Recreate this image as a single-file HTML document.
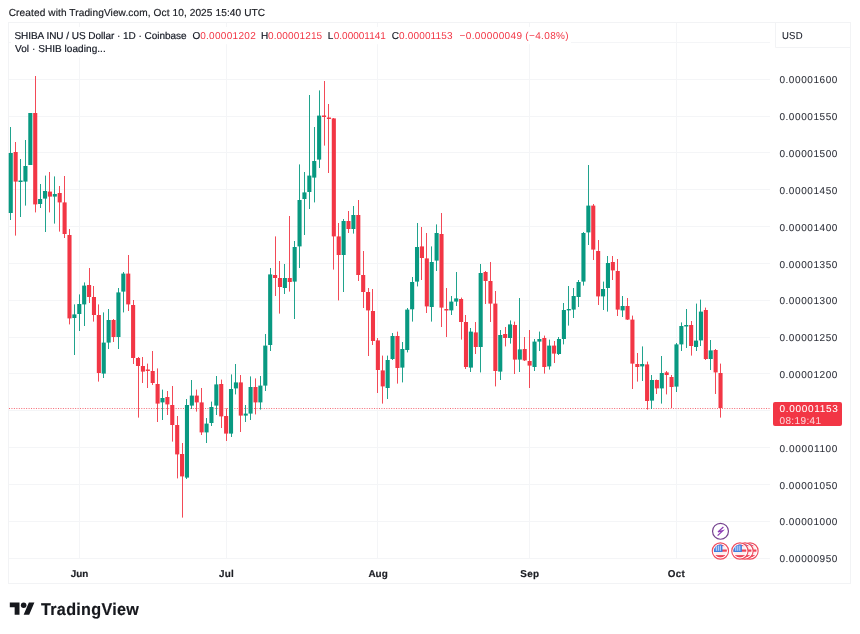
<!DOCTYPE html>
<html lang="en"><head><meta charset="utf-8"><title>SHIBUSD chart</title>
<style>
html,body{margin:0;padding:0;background:#fff}
body{width:860px;height:634px;position:relative;overflow:hidden;font-family:"Liberation Sans",sans-serif;color:#131722}
.cv{position:absolute;left:0;top:0}
.t{position:absolute;white-space:pre;line-height:14px;transform-origin:0 50%;-webkit-text-stroke:0.18px;text-rendering:geometricPrecision}
.cur{position:absolute;left:772.8px;top:401.9px;width:69px;height:24.5px;background:#f23645;border-radius:2px}
.ic{position:absolute}
.logo{position:absolute;left:9.9px;top:602.4px}
</style></head><body>
<svg class="cv" width="860" height="634" viewBox="0 0 860 634">
<g fill="none" stroke="#f2f3f5" stroke-width="1">
<rect x="8.5" y="22.5" width="842" height="561"/>
<path d="M775.5 22.5V47.5H850.5"/>
</g>
<g stroke="#f4f5f7" stroke-width="1">
<line x1="9" x2="770" y1="42.5" y2="42.5"/>
<line x1="9" x2="770" y1="79.5" y2="79.5"/>
<line x1="9" x2="770" y1="116.5" y2="116.5"/>
<line x1="9" x2="770" y1="152.5" y2="152.5"/>
<line x1="9" x2="770" y1="189.5" y2="189.5"/>
<line x1="9" x2="770" y1="226.5" y2="226.5"/>
<line x1="9" x2="770" y1="263.5" y2="263.5"/>
<line x1="9" x2="770" y1="300.5" y2="300.5"/>
<line x1="9" x2="770" y1="337.5" y2="337.5"/>
<line x1="9" x2="770" y1="373.5" y2="373.5"/>
<line x1="9" x2="770" y1="410.5" y2="410.5"/>
<line x1="9" x2="770" y1="447.5" y2="447.5"/>
<line x1="9" x2="770" y1="484.5" y2="484.5"/>
<line x1="9" x2="770" y1="521.5" y2="521.5"/>
<line x1="9" x2="770" y1="558.5" y2="558.5"/>
<line x1="79.5" x2="79.5" y1="23" y2="558"/>
<line x1="226.5" x2="226.5" y1="23" y2="558"/>
<line x1="377.5" x2="377.5" y1="23" y2="558"/>
<line x1="529.5" x2="529.5" y1="23" y2="558"/>
<line x1="676.5" x2="676.5" y1="23" y2="558"/>
</g>
<rect x="11" y="27" width="560" height="17.2" fill="#fff"/><rect x="11" y="44" width="97" height="13.5" fill="#fff"/>
<line x1="9" x2="771" y1="408.5" y2="408.5" stroke="#f23645" stroke-width="1" stroke-dasharray="1 1.45" opacity="0.75"/>
<g fill="#089981" stroke="none">
<rect x="10" y="127.0" width="1" height="93.0" opacity="0.9"/>
<rect x="8.70" y="153.0" width="4.1" height="60.0"/>
<rect x="20" y="159.0" width="1" height="58.0" opacity="0.9"/>
<rect x="18.49" y="180.5" width="4.1" height="1.5"/>
<rect x="25" y="140.0" width="1" height="65.6" opacity="0.9"/>
<rect x="23.38" y="166.0" width="4.1" height="15.6"/>
<rect x="30" y="113.0" width="1" height="52.0" opacity="0.9"/>
<rect x="28.28" y="113.0" width="4.1" height="52.0"/>
<rect x="40" y="184.0" width="1" height="24.0" opacity="0.9"/>
<rect x="38.07" y="199.0" width="4.1" height="5.0"/>
<rect x="45" y="175.6" width="1" height="56.4" opacity="0.9"/>
<rect x="42.97" y="191.0" width="4.1" height="7.6"/>
<rect x="54" y="176.4" width="1" height="47.2" opacity="0.9"/>
<rect x="52.75" y="194.0" width="4.1" height="2.6"/>
<rect x="74" y="304.4" width="1" height="50.6" opacity="0.9"/>
<rect x="72.33" y="314.4" width="4.1" height="3.6"/>
<rect x="79" y="294.4" width="1" height="36.6" opacity="0.9"/>
<rect x="77.23" y="304.0" width="4.1" height="10.0"/>
<rect x="84" y="282.4" width="1" height="43.6" opacity="0.9"/>
<rect x="82.12" y="285.6" width="4.1" height="18.8"/>
<rect x="103" y="312.4" width="1" height="65.6" opacity="0.9"/>
<rect x="101.70" y="342.6" width="4.1" height="31.0"/>
<rect x="108" y="309.0" width="1" height="40.0" opacity="0.9"/>
<rect x="106.60" y="320.0" width="4.1" height="22.6"/>
<rect x="118" y="288.0" width="1" height="61.0" opacity="0.9"/>
<rect x="116.39" y="292.4" width="4.1" height="44.6"/>
<rect x="123" y="272.0" width="1" height="40.4" opacity="0.9"/>
<rect x="121.28" y="273.6" width="4.1" height="18.0"/>
<rect x="162" y="389.6" width="1" height="30.4" opacity="0.9"/>
<rect x="160.44" y="398.0" width="4.1" height="4.4"/>
<rect x="186" y="399.0" width="1" height="80.0" opacity="0.9"/>
<rect x="184.92" y="405.0" width="4.1" height="72.6"/>
<rect x="191" y="380.0" width="1" height="29.0" opacity="0.9"/>
<rect x="189.81" y="395.6" width="4.1" height="10.0"/>
<rect x="206" y="418.0" width="1" height="25.0" opacity="0.9"/>
<rect x="204.50" y="423.6" width="4.1" height="8.8"/>
<rect x="211" y="401.6" width="1" height="24.4" opacity="0.9"/>
<rect x="209.39" y="407.0" width="4.1" height="16.0"/>
<rect x="216" y="376.0" width="1" height="39.0" opacity="0.9"/>
<rect x="214.29" y="384.4" width="4.1" height="21.2"/>
<rect x="231" y="374.4" width="1" height="62.6" opacity="0.9"/>
<rect x="228.97" y="389.0" width="4.1" height="44.6"/>
<rect x="235" y="364.0" width="1" height="30.4" opacity="0.9"/>
<rect x="233.87" y="382.4" width="4.1" height="6.0"/>
<rect x="245" y="405.0" width="1" height="17.0" opacity="0.9"/>
<rect x="243.66" y="413.6" width="4.1" height="2.0"/>
<rect x="250" y="376.4" width="1" height="43.6" opacity="0.9"/>
<rect x="248.55" y="387.0" width="4.1" height="26.6"/>
<rect x="260" y="376.0" width="1" height="33.6" opacity="0.9"/>
<rect x="258.34" y="385.6" width="4.1" height="16.8"/>
<rect x="265" y="334.0" width="1" height="57.0" opacity="0.9"/>
<rect x="263.24" y="345.6" width="4.1" height="40.0"/>
<rect x="270" y="268.0" width="1" height="83.0" opacity="0.9"/>
<rect x="268.13" y="274.4" width="4.1" height="70.6"/>
<rect x="284" y="264.0" width="1" height="30.0" opacity="0.9"/>
<rect x="282.82" y="278.0" width="4.1" height="10.0"/>
<rect x="294" y="241.0" width="1" height="78.0" opacity="0.9"/>
<rect x="292.61" y="247.0" width="4.1" height="34.6"/>
<rect x="299" y="164.4" width="1" height="103.6" opacity="0.9"/>
<rect x="297.50" y="200.0" width="4.1" height="46.4"/>
<rect x="304" y="172.0" width="1" height="63.0" opacity="0.9"/>
<rect x="302.40" y="192.4" width="4.1" height="6.6"/>
<rect x="309" y="95.0" width="1" height="114.0" opacity="0.9"/>
<rect x="307.29" y="175.6" width="4.1" height="16.4"/>
<rect x="314" y="127.0" width="1" height="75.4" opacity="0.9"/>
<rect x="312.19" y="161.0" width="4.1" height="16.6"/>
<rect x="319" y="90.4" width="1" height="77.6" opacity="0.9"/>
<rect x="317.08" y="115.6" width="4.1" height="44.0"/>
<rect x="343" y="219.0" width="1" height="73.0" opacity="0.9"/>
<rect x="341.56" y="221.0" width="4.1" height="34.0"/>
<rect x="353" y="206.0" width="1" height="27.6" opacity="0.9"/>
<rect x="351.35" y="215.0" width="4.1" height="14.0"/>
<rect x="387" y="355.6" width="1" height="43.4" opacity="0.9"/>
<rect x="385.61" y="360.0" width="4.1" height="28.0"/>
<rect x="392" y="333.0" width="1" height="27.0" opacity="0.9"/>
<rect x="390.51" y="336.0" width="4.1" height="23.0"/>
<rect x="402" y="342.0" width="1" height="40.4" opacity="0.9"/>
<rect x="400.30" y="349.0" width="4.1" height="18.6"/>
<rect x="407" y="308.0" width="1" height="44.4" opacity="0.9"/>
<rect x="405.19" y="309.6" width="4.1" height="40.4"/>
<rect x="412" y="277.0" width="1" height="44.6" opacity="0.9"/>
<rect x="410.09" y="282.0" width="4.1" height="27.3"/>
<rect x="417" y="223.0" width="1" height="63.4" opacity="0.9"/>
<rect x="414.98" y="247.0" width="4.1" height="34.6"/>
<rect x="431" y="246.4" width="1" height="75.2" opacity="0.9"/>
<rect x="429.67" y="262.0" width="4.1" height="45.0"/>
<rect x="436" y="224.4" width="1" height="46.6" opacity="0.9"/>
<rect x="434.56" y="233.0" width="4.1" height="27.6"/>
<rect x="451" y="296.0" width="1" height="19.0" opacity="0.9"/>
<rect x="449.25" y="301.6" width="4.1" height="8.8"/>
<rect x="456" y="272.0" width="1" height="34.0" opacity="0.9"/>
<rect x="454.14" y="298.4" width="4.1" height="3.2"/>
<rect x="470" y="328.0" width="1" height="44.0" opacity="0.9"/>
<rect x="468.83" y="331.6" width="4.1" height="36.0"/>
<rect x="480" y="264.0" width="1" height="108.4" opacity="0.9"/>
<rect x="478.62" y="273.0" width="4.1" height="74.0"/>
<rect x="500" y="330.0" width="1" height="50.0" opacity="0.9"/>
<rect x="498.20" y="335.0" width="4.1" height="36.6"/>
<rect x="510" y="320.4" width="1" height="23.2" opacity="0.9"/>
<rect x="507.99" y="324.4" width="4.1" height="13.6"/>
<rect x="519" y="298.0" width="1" height="74.0" opacity="0.9"/>
<rect x="517.78" y="349.4" width="4.1" height="10.2"/>
<rect x="534" y="339.0" width="1" height="32.0" opacity="0.9"/>
<rect x="532.47" y="341.6" width="4.1" height="25.4"/>
<rect x="539" y="331.6" width="1" height="19.4" opacity="0.9"/>
<rect x="537.36" y="339.0" width="4.1" height="2.6"/>
<rect x="549" y="339.6" width="1" height="30.0" opacity="0.9"/>
<rect x="547.15" y="345.6" width="4.1" height="20.8"/>
<rect x="558" y="337.0" width="1" height="18.0" opacity="0.9"/>
<rect x="556.94" y="339.0" width="4.1" height="15.0"/>
<rect x="563" y="303.0" width="1" height="41.4" opacity="0.9"/>
<rect x="561.84" y="310.0" width="4.1" height="29.0"/>
<rect x="568" y="286.0" width="1" height="39.6" opacity="0.9"/>
<rect x="566.73" y="309.0" width="4.1" height="1.4"/>
<rect x="573" y="288.0" width="1" height="30.0" opacity="0.9"/>
<rect x="571.62" y="296.0" width="4.1" height="13.6"/>
<rect x="578" y="280.0" width="1" height="27.0" opacity="0.9"/>
<rect x="576.52" y="282.0" width="4.1" height="15.0"/>
<rect x="583" y="232.0" width="1" height="53.6" opacity="0.9"/>
<rect x="581.41" y="233.0" width="4.1" height="48.6"/>
<rect x="588" y="165.0" width="1" height="80.0" opacity="0.9"/>
<rect x="586.31" y="205.6" width="4.1" height="26.8"/>
<rect x="603" y="281.6" width="1" height="28.4" opacity="0.9"/>
<rect x="601.00" y="289.0" width="4.1" height="7.4"/>
<rect x="607" y="256.0" width="1" height="55.6" opacity="0.9"/>
<rect x="605.89" y="263.0" width="4.1" height="25.0"/>
<rect x="622" y="296.0" width="1" height="21.0" opacity="0.9"/>
<rect x="620.58" y="306.0" width="4.1" height="4.4"/>
<rect x="642" y="346.4" width="1" height="34.6" opacity="0.9"/>
<rect x="640.15" y="364.0" width="4.1" height="2.4"/>
<rect x="651" y="375.0" width="1" height="34.0" opacity="0.9"/>
<rect x="649.94" y="380.0" width="4.1" height="20.6"/>
<rect x="661" y="356.0" width="1" height="47.6" opacity="0.9"/>
<rect x="659.74" y="373.0" width="4.1" height="15.4"/>
<rect x="676" y="343.0" width="1" height="49.0" opacity="0.9"/>
<rect x="674.42" y="344.4" width="4.1" height="42.2"/>
<rect x="681" y="322.4" width="1" height="28.6" opacity="0.9"/>
<rect x="679.31" y="326.0" width="4.1" height="18.4"/>
<rect x="686" y="309.0" width="1" height="39.0" opacity="0.9"/>
<rect x="684.21" y="325.0" width="4.1" height="1.5"/>
<rect x="696" y="303.6" width="1" height="47.4" opacity="0.9"/>
<rect x="694.00" y="340.6" width="4.1" height="6.4"/>
<rect x="700" y="299.6" width="1" height="46.4" opacity="0.9"/>
<rect x="698.89" y="311.6" width="4.1" height="28.8"/>
<rect x="710" y="340.0" width="1" height="30.0" opacity="0.9"/>
<rect x="708.68" y="350.4" width="4.1" height="8.6"/>
</g>
<g fill="#f23645" stroke="none">
<rect x="15" y="142.0" width="1" height="93.6" opacity="0.9"/>
<rect x="13.59" y="152.0" width="4.1" height="29.6"/>
<rect x="35" y="76.0" width="1" height="136.4" opacity="0.9"/>
<rect x="33.17" y="113.0" width="4.1" height="91.4"/>
<rect x="49" y="172.0" width="1" height="40.4" opacity="0.9"/>
<rect x="47.86" y="191.6" width="4.1" height="5.0"/>
<rect x="59" y="186.0" width="1" height="45.6" opacity="0.9"/>
<rect x="57.65" y="193.0" width="4.1" height="9.4"/>
<rect x="64" y="176.0" width="1" height="62.0" opacity="0.9"/>
<rect x="62.55" y="202.4" width="4.1" height="31.6"/>
<rect x="69" y="229.0" width="1" height="95.4" opacity="0.9"/>
<rect x="67.44" y="235.0" width="4.1" height="83.4"/>
<rect x="89" y="268.0" width="1" height="35.0" opacity="0.9"/>
<rect x="87.02" y="285.0" width="4.1" height="12.0"/>
<rect x="93" y="286.0" width="1" height="35.6" opacity="0.9"/>
<rect x="91.91" y="297.0" width="4.1" height="18.0"/>
<rect x="98" y="304.4" width="1" height="77.2" opacity="0.9"/>
<rect x="96.81" y="315.0" width="4.1" height="58.0"/>
<rect x="113" y="319.0" width="1" height="23.0" opacity="0.9"/>
<rect x="111.49" y="320.0" width="4.1" height="17.0"/>
<rect x="128" y="255.0" width="1" height="56.0" opacity="0.9"/>
<rect x="126.18" y="273.6" width="4.1" height="30.8"/>
<rect x="133" y="300.0" width="1" height="64.0" opacity="0.9"/>
<rect x="131.07" y="305.0" width="4.1" height="53.0"/>
<rect x="138" y="357.0" width="1" height="60.6" opacity="0.9"/>
<rect x="135.97" y="358.0" width="4.1" height="8.0"/>
<rect x="142" y="357.0" width="1" height="26.0" opacity="0.9"/>
<rect x="140.86" y="366.0" width="4.1" height="5.6"/>
<rect x="147" y="363.6" width="1" height="24.4" opacity="0.9"/>
<rect x="145.76" y="369.5" width="4.1" height="1.5"/>
<rect x="152" y="351.0" width="1" height="34.0" opacity="0.9"/>
<rect x="150.65" y="371.0" width="4.1" height="12.0"/>
<rect x="157" y="368.4" width="1" height="53.6" opacity="0.9"/>
<rect x="155.55" y="384.0" width="4.1" height="19.6"/>
<rect x="167" y="391.0" width="1" height="24.0" opacity="0.9"/>
<rect x="165.34" y="397.0" width="4.1" height="7.4"/>
<rect x="172" y="386.0" width="1" height="55.6" opacity="0.9"/>
<rect x="170.23" y="405.0" width="4.1" height="20.0"/>
<rect x="177" y="416.0" width="1" height="62.4" opacity="0.9"/>
<rect x="175.13" y="425.0" width="4.1" height="29.4"/>
<rect x="182" y="443.0" width="1" height="74.6" opacity="0.9"/>
<rect x="180.02" y="454.0" width="4.1" height="22.4"/>
<rect x="196" y="389.6" width="1" height="22.0" opacity="0.9"/>
<rect x="194.71" y="395.6" width="4.1" height="6.8"/>
<rect x="201" y="388.0" width="1" height="47.0" opacity="0.9"/>
<rect x="199.60" y="402.4" width="4.1" height="30.0"/>
<rect x="221" y="379.6" width="1" height="48.4" opacity="0.9"/>
<rect x="219.18" y="384.0" width="4.1" height="32.4"/>
<rect x="226" y="408.4" width="1" height="32.6" opacity="0.9"/>
<rect x="224.08" y="416.0" width="4.1" height="17.6"/>
<rect x="240" y="375.0" width="1" height="57.0" opacity="0.9"/>
<rect x="238.76" y="382.4" width="4.1" height="33.2"/>
<rect x="255" y="378.4" width="1" height="36.0" opacity="0.9"/>
<rect x="253.45" y="387.0" width="4.1" height="15.4"/>
<rect x="275" y="236.4" width="1" height="59.6" opacity="0.9"/>
<rect x="273.03" y="275.0" width="4.1" height="3.0"/>
<rect x="279" y="261.0" width="1" height="52.6" opacity="0.9"/>
<rect x="277.92" y="278.0" width="4.1" height="9.0"/>
<rect x="289" y="216.0" width="1" height="75.6" opacity="0.9"/>
<rect x="287.71" y="278.0" width="4.1" height="4.0"/>
<rect x="324" y="81.0" width="1" height="64.6" opacity="0.9"/>
<rect x="321.98" y="115.5" width="4.1" height="1.5"/>
<rect x="328" y="104.0" width="1" height="69.0" opacity="0.9"/>
<rect x="326.87" y="117.5" width="4.1" height="1.5"/>
<rect x="333" y="118.0" width="1" height="151.6" opacity="0.9"/>
<rect x="331.77" y="118.4" width="4.1" height="118.0"/>
<rect x="338" y="223.0" width="1" height="77.4" opacity="0.9"/>
<rect x="336.66" y="236.4" width="4.1" height="18.6"/>
<rect x="348" y="211.0" width="1" height="22.0" opacity="0.9"/>
<rect x="346.45" y="221.0" width="4.1" height="8.0"/>
<rect x="358" y="200.0" width="1" height="81.0" opacity="0.9"/>
<rect x="356.24" y="215.0" width="4.1" height="60.0"/>
<rect x="363" y="251.0" width="1" height="57.0" opacity="0.9"/>
<rect x="361.14" y="275.0" width="4.1" height="17.0"/>
<rect x="368" y="288.0" width="1" height="68.0" opacity="0.9"/>
<rect x="366.03" y="292.0" width="4.1" height="18.4"/>
<rect x="372" y="289.0" width="1" height="56.0" opacity="0.9"/>
<rect x="370.93" y="311.0" width="4.1" height="30.0"/>
<rect x="377" y="338.0" width="1" height="55.0" opacity="0.9"/>
<rect x="375.82" y="340.4" width="4.1" height="29.6"/>
<rect x="382" y="355.6" width="1" height="48.0" opacity="0.9"/>
<rect x="380.72" y="370.4" width="4.1" height="16.0"/>
<rect x="397" y="331.6" width="1" height="52.0" opacity="0.9"/>
<rect x="395.40" y="336.0" width="4.1" height="32.0"/>
<rect x="421" y="227.0" width="1" height="53.0" opacity="0.9"/>
<rect x="419.88" y="246.4" width="4.1" height="11.6"/>
<rect x="426" y="233.0" width="1" height="80.0" opacity="0.9"/>
<rect x="424.77" y="258.4" width="4.1" height="48.0"/>
<rect x="441" y="213.0" width="1" height="114.0" opacity="0.9"/>
<rect x="439.46" y="234.0" width="4.1" height="73.6"/>
<rect x="446" y="288.0" width="1" height="49.0" opacity="0.9"/>
<rect x="444.35" y="309.0" width="4.1" height="1.5"/>
<rect x="461" y="297.6" width="1" height="42.0" opacity="0.9"/>
<rect x="459.04" y="299.0" width="4.1" height="23.0"/>
<rect x="465" y="315.0" width="1" height="54.0" opacity="0.9"/>
<rect x="463.93" y="322.0" width="4.1" height="45.0"/>
<rect x="475" y="322.0" width="1" height="32.0" opacity="0.9"/>
<rect x="473.72" y="332.4" width="4.1" height="14.6"/>
<rect x="485" y="271.0" width="1" height="33.0" opacity="0.9"/>
<rect x="483.51" y="272.0" width="4.1" height="9.0"/>
<rect x="490" y="262.0" width="1" height="60.0" opacity="0.9"/>
<rect x="488.41" y="281.0" width="4.1" height="22.6"/>
<rect x="495" y="291.0" width="1" height="95.4" opacity="0.9"/>
<rect x="493.30" y="303.6" width="4.1" height="67.4"/>
<rect x="505" y="327.0" width="1" height="19.4" opacity="0.9"/>
<rect x="503.09" y="334.0" width="4.1" height="4.0"/>
<rect x="514" y="321.6" width="1" height="52.4" opacity="0.9"/>
<rect x="512.88" y="325.0" width="4.1" height="34.6"/>
<rect x="524" y="337.0" width="1" height="24.0" opacity="0.9"/>
<rect x="522.67" y="349.0" width="4.1" height="11.4"/>
<rect x="529" y="330.0" width="1" height="58.0" opacity="0.9"/>
<rect x="527.57" y="361.0" width="4.1" height="4.6"/>
<rect x="544" y="335.6" width="1" height="38.0" opacity="0.9"/>
<rect x="542.25" y="338.0" width="4.1" height="29.0"/>
<rect x="554" y="341.0" width="1" height="22.0" opacity="0.9"/>
<rect x="552.04" y="345.6" width="4.1" height="8.0"/>
<rect x="593" y="204.0" width="1" height="56.0" opacity="0.9"/>
<rect x="591.21" y="205.6" width="4.1" height="44.0"/>
<rect x="598" y="240.0" width="1" height="65.0" opacity="0.9"/>
<rect x="596.10" y="251.0" width="4.1" height="45.4"/>
<rect x="612" y="256.0" width="1" height="24.0" opacity="0.9"/>
<rect x="610.78" y="262.0" width="4.1" height="8.4"/>
<rect x="617" y="259.0" width="1" height="57.0" opacity="0.9"/>
<rect x="615.68" y="271.0" width="4.1" height="38.6"/>
<rect x="627" y="298.0" width="1" height="22.0" opacity="0.9"/>
<rect x="625.47" y="306.0" width="4.1" height="13.6"/>
<rect x="632" y="315.6" width="1" height="73.4" opacity="0.9"/>
<rect x="630.37" y="319.6" width="4.1" height="44.0"/>
<rect x="637" y="353.0" width="1" height="28.6" opacity="0.9"/>
<rect x="635.26" y="364.0" width="4.1" height="3.0"/>
<rect x="647" y="361.6" width="1" height="48.0" opacity="0.9"/>
<rect x="645.05" y="364.4" width="4.1" height="36.6"/>
<rect x="656" y="379.6" width="1" height="14.4" opacity="0.9"/>
<rect x="654.84" y="380.0" width="4.1" height="8.4"/>
<rect x="666" y="371.0" width="1" height="23.4" opacity="0.9"/>
<rect x="664.63" y="372.4" width="4.1" height="2.6"/>
<rect x="671" y="375.0" width="1" height="33.0" opacity="0.9"/>
<rect x="669.52" y="377.0" width="4.1" height="10.0"/>
<rect x="691" y="321.0" width="1" height="34.6" opacity="0.9"/>
<rect x="689.11" y="325.0" width="4.1" height="21.0"/>
<rect x="705" y="307.6" width="1" height="52.4" opacity="0.9"/>
<rect x="703.79" y="310.0" width="4.1" height="49.0"/>
<rect x="715" y="349.0" width="1" height="45.0" opacity="0.9"/>
<rect x="713.58" y="350.0" width="4.1" height="22.4"/>
<rect x="720" y="363.6" width="1" height="54.0" opacity="0.9"/>
<rect x="718.48" y="373.0" width="4.1" height="35.0"/>
</g>
</svg>
<div class="cur"></div>
<div class="t hdr" style="left:8.72px;top:7px;font-size:10.1px;letter-spacing:0.102px;color:#1c1e24">Created with TradingView.com, Oct 10, 2025 15:40 UTC</div>
<div class="t lg" style="left:14.4px;top:30px;font-size:10.0px;letter-spacing:-0.033px;color:#131722">SHIBA INU / US Dollar · 1D · Coinbase</div>
<div class="t lg" style="left:192.62px;top:30px;font-size:10.0px;letter-spacing:0px;color:#131722">O</div>
<div class="t lg" style="left:200.15px;top:30px;font-size:10.0px;letter-spacing:0.306px;color:#f23645;-webkit-text-stroke:0">0.00001202</div>
<div class="t lg" style="left:261.1px;top:30px;font-size:10.0px;letter-spacing:0px;color:#131722">H</div>
<div class="t lg" style="left:267.98px;top:30px;font-size:10.0px;letter-spacing:0.15px;color:#f23645;-webkit-text-stroke:0">0.00001215</div>
<div class="t lg" style="left:327.8px;top:30px;font-size:10.0px;letter-spacing:0px;color:#131722">L</div>
<div class="t lg" style="left:333.75px;top:30px;font-size:10.0px;letter-spacing:0.0px;color:#f23645;-webkit-text-stroke:0">0.00001141</div>
<div class="t lg" style="left:391.68px;top:30px;font-size:10.0px;letter-spacing:0px;color:#131722">C</div>
<div class="t lg" style="left:399.1px;top:30px;font-size:10.0px;letter-spacing:0.156px;color:#f23645;-webkit-text-stroke:0">0.00001153</div>
<div class="t lg" style="left:459.5px;top:30px;font-size:10.0px;letter-spacing:0.39px;color:#f23645;-webkit-text-stroke:0">−0.00000049</div>
<div class="t lg" style="left:525.3px;top:30px;font-size:10.0px;letter-spacing:0.364px;color:#f23645;-webkit-text-stroke:0">(−4.08%)</div>
<div class="t vol" style="left:15.0px;top:43px;font-size:10.0px;letter-spacing:0.062px;color:#131722">Vol · SHIB loading...</div>
<div class="t usd" style="left:782.12px;top:30px;font-size:10.0px;letter-spacing:0.275px;color:#131722;transform:scaleX(0.95);-webkit-text-stroke:0.1px">USD</div>
<div class="t pl" style="left:779.4px;top:74px;font-size:10.0px;letter-spacing:0.572px;color:#2f323b;-webkit-text-stroke:0.08px">0.00001600</div>
<div class="t pl" style="left:779.4px;top:111px;font-size:10.0px;letter-spacing:0.572px;color:#2f323b;-webkit-text-stroke:0.08px">0.00001550</div>
<div class="t pl" style="left:779.4px;top:148px;font-size:10.0px;letter-spacing:0.572px;color:#2f323b;-webkit-text-stroke:0.08px">0.00001500</div>
<div class="t pl" style="left:779.4px;top:185px;font-size:10.0px;letter-spacing:0.572px;color:#2f323b;-webkit-text-stroke:0.08px">0.00001450</div>
<div class="t pl" style="left:779.4px;top:222px;font-size:10.0px;letter-spacing:0.572px;color:#2f323b;-webkit-text-stroke:0.08px">0.00001400</div>
<div class="t pl" style="left:779.4px;top:259px;font-size:10.0px;letter-spacing:0.572px;color:#2f323b;-webkit-text-stroke:0.08px">0.00001350</div>
<div class="t pl" style="left:779.4px;top:295px;font-size:10.0px;letter-spacing:0.572px;color:#2f323b;-webkit-text-stroke:0.08px">0.00001300</div>
<div class="t pl" style="left:779.4px;top:332px;font-size:10.0px;letter-spacing:0.572px;color:#2f323b;-webkit-text-stroke:0.08px">0.00001250</div>
<div class="t pl" style="left:779.4px;top:369px;font-size:10.0px;letter-spacing:0.572px;color:#2f323b;-webkit-text-stroke:0.08px">0.00001200</div>
<div class="t pl" style="left:779.4px;top:443px;font-size:10.0px;letter-spacing:0.656px;color:#2f323b;-webkit-text-stroke:0.08px">0.00001100</div>
<div class="t pl" style="left:779.4px;top:480px;font-size:10.0px;letter-spacing:0.572px;color:#2f323b;-webkit-text-stroke:0.08px">0.00001050</div>
<div class="t pl" style="left:779.4px;top:516px;font-size:10.0px;letter-spacing:0.572px;color:#2f323b;-webkit-text-stroke:0.08px">0.00001000</div>
<div class="t pl" style="left:779.4px;top:553px;font-size:10.0px;letter-spacing:0.572px;color:#2f323b;-webkit-text-stroke:0.08px">0.00000950</div>
<div class="t cw" style="left:779.5px;top:403px;font-size:10.0px;letter-spacing:0.678px;color:#ffffff;-webkit-text-stroke:0.05px">0.00001153</div>
<div class="t cw" style="left:779.45px;top:415px;font-size:10.0px;letter-spacing:0.393px;color:#ffffff;opacity:0.78;-webkit-text-stroke:0.05px">08:19:41</div>
<div class="t ml" style="left:70.82px;top:568px;font-size:9.9px;letter-spacing:-0.05px;color:#1c1e24;font-weight:700">Jun</div>
<div class="t ml" style="left:219.08px;top:568px;font-size:9.9px;letter-spacing:0.225px;color:#1c1e24;font-weight:700">Jul</div>
<div class="t ml" style="left:368.4px;top:568px;font-size:9.9px;letter-spacing:0.05px;color:#1c1e24;font-weight:700">Aug</div>
<div class="t ml" style="left:520.15px;top:568px;font-size:9.9px;letter-spacing:0.4px;color:#1c1e24;font-weight:700">Sep</div>
<div class="t ml" style="left:667.65px;top:568px;font-size:9.9px;letter-spacing:0.375px;color:#1c1e24;font-weight:700">Oct</div>
<div class="t lt" style="left:40.68px;top:603px;font-size:17.0px;letter-spacing:0.311px;color:#16181d;font-weight:700;transform:scaleX(0.95)">TradingView</div>
<svg class="cv" width="860" height="634" viewBox="0 0 860 634">
<g transform="translate(720.5,531.3)"><circle cx="0" cy="0" r="7.95" fill="#fff" stroke="#75438f" stroke-width="1.2"/><path d="M2.9 -4.3 -2.5 0.6 2.3 -0.6 -2.9 4.3" fill="none" stroke="#8d3db5" stroke-width="1.25" stroke-linejoin="miter"/></g>
<g transform="translate(720.4,551.0)"><clipPath id="c0"><circle cx="0" cy="0" r="6.5"/></clipPath><circle cx="0" cy="0" r="8.15" fill="#fff" stroke="#ef4a5c" stroke-width="1.1"/><g clip-path="url(#c0)"><rect x="-7" y="-7" width="14" height="14" fill="#fdeff0"/><g fill="#ee4459"><rect x="-7" y="-7" width="14" height="2.1"/><rect x="-7" y="-1.5" width="14" height="2.2"/><rect x="-7" y="4.1" width="14" height="2.6"/></g><rect x="-7" y="-7" width="9" height="8" fill="#3f7fe0"/><g fill="#cfe0fa"><rect x="-4.6" y="-4.8" width="1" height="4.6"/><rect x="-2.6" y="-5.4" width="1" height="5.2"/><rect x="-0.6" y="-5.4" width="1" height="5.2"/></g></g></g>
<g transform="translate(750.0,551.0)"><clipPath id="c3"><circle cx="0" cy="0" r="6.5"/></clipPath><circle cx="0" cy="0" r="8.15" fill="#fff" stroke="#ef4a5c" stroke-width="1.1"/><g clip-path="url(#c3)"><rect x="-7" y="-7" width="14" height="14" fill="#fdeff0"/><g fill="#ee4459"><rect x="-7" y="-7" width="14" height="2.1"/><rect x="-7" y="-1.5" width="14" height="2.2"/><rect x="-7" y="4.1" width="14" height="2.6"/></g><rect x="-7" y="-7" width="9" height="8" fill="#3f7fe0"/><g fill="#cfe0fa"><rect x="-4.6" y="-4.8" width="1" height="4.6"/><rect x="-2.6" y="-5.4" width="1" height="5.2"/><rect x="-0.6" y="-5.4" width="1" height="5.2"/></g></g></g>
<g transform="translate(745.0,551.0)"><clipPath id="c2"><circle cx="0" cy="0" r="6.5"/></clipPath><circle cx="0" cy="0" r="8.15" fill="#fff" stroke="#ef4a5c" stroke-width="1.1"/><g clip-path="url(#c2)"><rect x="-7" y="-7" width="14" height="14" fill="#fdeff0"/><g fill="#ee4459"><rect x="-7" y="-7" width="14" height="2.1"/><rect x="-7" y="-1.5" width="14" height="2.2"/><rect x="-7" y="4.1" width="14" height="2.6"/></g><rect x="-7" y="-7" width="9" height="8" fill="#3f7fe0"/><g fill="#cfe0fa"><rect x="-4.6" y="-4.8" width="1" height="4.6"/><rect x="-2.6" y="-5.4" width="1" height="5.2"/><rect x="-0.6" y="-5.4" width="1" height="5.2"/></g></g></g>
<g transform="translate(739.9,551.0)"><clipPath id="c1"><circle cx="0" cy="0" r="6.5"/></clipPath><circle cx="0" cy="0" r="8.15" fill="#fff" stroke="#ef4a5c" stroke-width="1.1"/><g clip-path="url(#c1)"><rect x="-7" y="-7" width="14" height="14" fill="#fdeff0"/><g fill="#ee4459"><rect x="-7" y="-7" width="14" height="2.1"/><rect x="-7" y="-1.5" width="14" height="2.2"/><rect x="-7" y="4.1" width="14" height="2.6"/></g><rect x="-7" y="-7" width="9" height="8" fill="#3f7fe0"/><g fill="#cfe0fa"><rect x="-4.6" y="-4.8" width="1" height="4.6"/><rect x="-2.6" y="-5.4" width="1" height="5.2"/><rect x="-0.6" y="-5.4" width="1" height="5.2"/></g></g></g>
<g transform="translate(9.8,602.6) scale(0.693,0.672) translate(0,-4)" fill="#16181d"><path d="M14 22H7V11H0V4h14v18zM28 22h-8l7.5-18h8L28 22z"/><circle cx="20" cy="8" r="4"/></g>
</svg>
</body></html>
